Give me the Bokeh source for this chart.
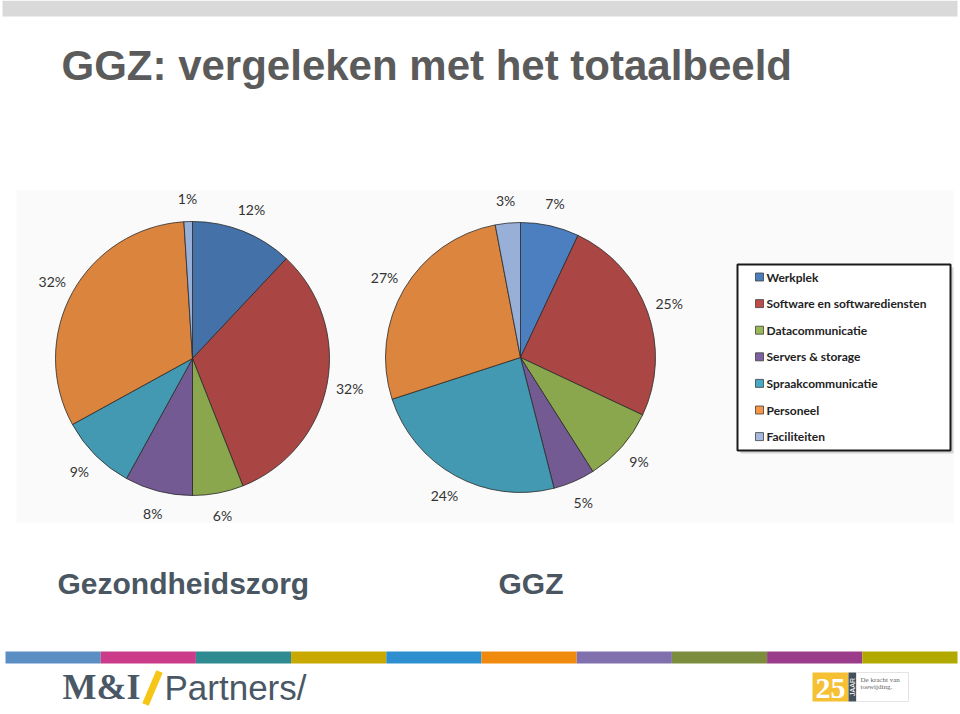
import math
from bokeh.plotting import figure
from bokeh.models import Range1d, ColumnDataSource
from bokeh.embed import file_html
from bokeh.resources import INLINE
from bokeh.core.properties import value

# ---------------- data ----------------
categories = ["Werkplek", "Software en softwarediensten", "Datacommunicatie",
              "Servers & storage", "Spraakcommunicatie", "Personeel", "Faciliteiten"]
gezondheidszorg = [12, 32, 6, 8, 9, 32, 1]
ggz = [7, 25, 9, 5, 24, 27, 3]
pie_names = ["Gezondheidszorg", "GGZ"]
title_text = "GGZ: vergeleken met het totaalbeeld"

# ---------------- styles ----------------
pie_colors_left = ["#4472a8", "#a94543", "#8aa74e", "#735a92", "#4399b1", "#db843d", "#98b0d8"]
pie_colors_right = ["#4b7fbf", "#aa4644", "#8aa74e", "#735a92", "#4399b1", "#dc853e", "#98b0d8"]
legend_colors = ["#4a7ebb", "#be4b48", "#98b954", "#7d60a0", "#46aac5", "#f69545", "#a6b9dd"]
bar_colors = ["#5b8fc4", "#cc3a8a", "#2e8b92", "#c9a800", "#2d8fcf",
              "#ef8a0e", "#8071ae", "#7c8e3e", "#9b3c8a", "#b1a800"]

W, H = 960, 714


def Y(py):
    return H - py


def mid_of(baseline, size):
    # centre of the em box for a text whose baseline lies at `baseline` (pixels)
    return Y(baseline - 0.3465 * size)


p = figure(width=W, height=H, x_range=Range1d(0, W), y_range=Range1d(0, H),
           output_backend="svg", toolbar_location=None, min_border=0)
p.axis.visible = False
p.grid.visible = False
p.outline_line_color = None
p.background_fill_color = "white"
p.border_fill_color = "white"

# top grey bar
p.quad(left=2, right=957, top=Y(0), bottom=Y(16), fill_color="#d9d9d9", line_color=None)

# title
p.text(x=[61], y=[mid_of(80, 42)], text=[title_text], text_font=value("Liberation Sans"),
       text_font_style="bold", text_font_size="42px", text_color="#5b5b5b",
       text_baseline="middle", text_align="left")

# chart area background
p.quad(left=16, right=953, top=Y(190), bottom=Y(522), fill_color="#fafafa", line_color=None)


def draw_pie(values, colors, cx, cy, r, lr):
    total = float(sum(values))
    cum = 0.0
    starts, ends, lx, ly, labels = [], [], [], [], []
    for v in values:
        a0 = cum / total
        a1 = (cum + v) / total
        cum += v
        starts.append(math.pi / 2 - 2 * math.pi * a1)
        ends.append(math.pi / 2 - 2 * math.pi * a0)
        mid = math.pi / 2 - 2 * math.pi * (a0 + a1) / 2
        lx.append(cx + lr * math.cos(mid))
        ly.append(cy + lr * math.sin(mid))
        labels.append(f"{v}%")
    src = ColumnDataSource(dict(s=starts, e=ends, c=colors))
    p.wedge(x=cx, y=cy, radius=r, start_angle="s", end_angle="e", direction="anticlock",
            fill_color="c", line_color="#2a2a2a", line_width=0.8, source=src)
    p.text(x=lx, y=ly, text=labels, text_font=value("Lato"), text_font_size="14px",
           text_color="#333333", text_align="center", text_baseline="middle")


draw_pie(gezondheidszorg, pie_colors_left, 192, Y(358), 137, 160)
draw_pie(ggz, pie_colors_right, 520, Y(357), 135, 158)

# legend box with shadow
p.quad(left=740, right=953, top=Y(267), bottom=Y(453), fill_color="#bbbbbb", line_color=None,
       fill_alpha=0.6)
p.quad(left=737, right=950, top=Y(264), bottom=Y(450), fill_color="white",
       line_color="#1a1a1a", line_width=2)
ly0 = 276.5
dy = 26.6
leg_y = [Y(ly0 + i * dy) for i in range(len(categories))]
p.scatter(x=[759] * len(categories), y=leg_y, marker="square", size=8,
          fill_color=legend_colors, line_color="#404040", line_width=0.8)
p.text(x=[766] * len(categories), y=leg_y, text=categories, text_font=value("Lato"),
       text_font_size="12px", text_font_style="bold", text_color="#222222",
       text_align="left", text_baseline="middle")

# pie captions
p.text(x=[57, 498], y=[mid_of(593, 30)] * 2, text=pie_names, text_font=value("Liberation Sans"),
       text_font_style="bold", text_font_size="30px", text_color="#4a5661",
       text_align="left", text_baseline="middle")

# bottom colour bar
seg = (957 - 5) / len(bar_colors)
p.quad(left=[5 + i * seg for i in range(len(bar_colors))],
       right=[5 + (i + 1) * seg for i in range(len(bar_colors))],
       top=Y(651), bottom=Y(663), fill_color=bar_colors, line_color=None)

# M&I/Partners/ logo
p.text(x=[62], y=[mid_of(699, 36)], text=["M&I"], text_font=value("Liberation Serif"),
       text_font_style="bold", text_font_size="36px", text_color="#4a5866",
       text_align="left", text_baseline="middle")
p.segment(x0=[145], y0=[Y(704)], x1=[159], y1=[Y(671)], line_color="#f5c518", line_width=7)
p.text(x=[164], y=[mid_of(699, 35)], text=["Partners/"], text_font=value("Liberation Sans"),
       text_font_size="35px", text_color="#4a5866", text_align="left",
       text_baseline="middle")

# 25 JAAR logo
p.quad(left=812, right=848, top=Y(672), bottom=Y(701), fill_color="#f6c035", line_color=None)
p.text(x=[830], y=[mid_of(698, 30)], text=["25"], text_font=value("Liberation Serif"),
       text_font_style="bold", text_font_size="30px", text_color="white",
       text_align="center", text_baseline="middle")
p.quad(left=848, right=856, top=Y(672), bottom=Y(701), fill_color="#44515c", line_color=None)
p.text(x=[852], y=[Y(686.5)], text=["JAAR"], angle=math.pi / 2, text_font=value("Liberation Sans"),
       text_font_size="7px", text_color="white", text_align="center", text_baseline="middle")
p.quad(left=856, right=908, top=Y(672), bottom=Y(701), fill_color="white", line_color="#e4e4e4",
       line_width=1)
p.text(x=[860, 860], y=[Y(679), Y(686)], text=["De kracht van", "toewijding."],
       text_font=value("Liberation Serif"), text_font_size="7px", text_color="#666666",
       text_align="left", text_baseline="middle")

open("out.html", "w").write(file_html(p, INLINE))
